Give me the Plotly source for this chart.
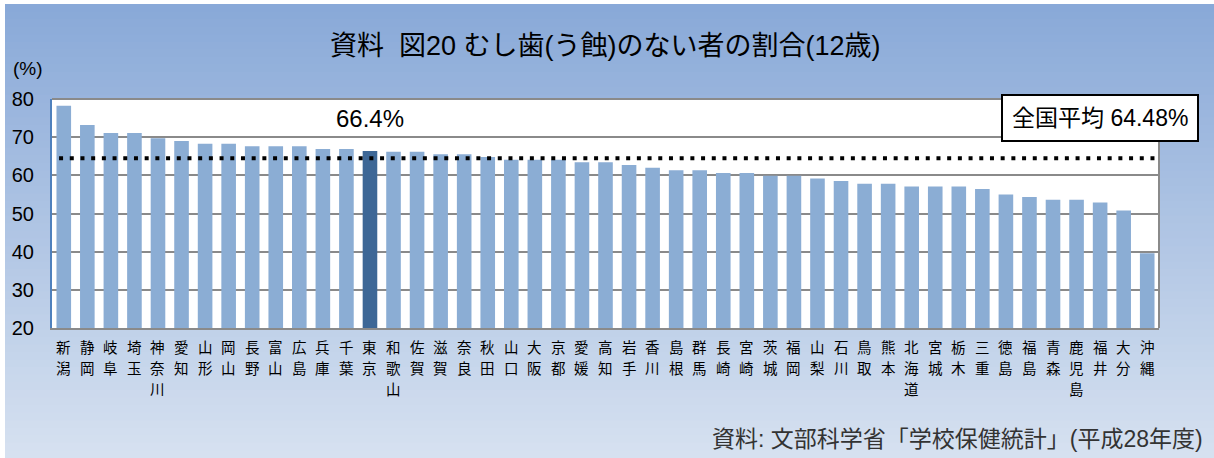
import plotly.graph_objects as go

# 12歳でむし歯（う蝕）のない者の割合（%）、都道府県別・降順
prefectures = [
    "新潟", "静岡", "岐阜", "埼玉", "神奈川", "愛知", "山形", "岡山", "長野", "富山",
    "広島", "兵庫", "千葉", "東京", "和歌山", "佐賀", "滋賀", "奈良", "秋田", "山口",
    "大阪", "京都", "愛媛", "高知", "岩手", "香川", "島根", "群馬", "長崎", "宮崎",
    "茨城", "福岡", "山梨", "石川", "鳥取", "熊本", "北海道", "宮城", "栃木", "三重",
    "徳島", "福島", "青森", "鹿児島", "福井", "大分", "沖縄",
]
rates = [
    78.2, 73.2, 71.1, 71.1, 69.7, 69.0, 68.3, 68.3, 67.6, 67.6,
    67.6, 66.9, 66.9, 66.4, 66.2, 66.2, 65.5, 65.5, 64.8, 64.1,
    64.1, 64.1, 63.4, 63.4, 62.7, 62.0, 61.3, 61.3, 60.6, 60.6,
    59.9, 59.9, 59.2, 58.5, 57.8, 57.8, 57.1, 57.1, 57.1, 56.4,
    55.0, 54.3, 53.6, 53.6, 52.9, 50.8, 39.6,
]
national_avg = 64.48
highlight = "東京"
y_ticks = [20, 30, 40, 50, 60, 70, 80]

title_text = "資料  図20 むし歯(う蝕)のない者の割合(12歳)"
source_text = "資料: 文部科学省「学校保健統計」(平成28年度)"

FONT = "Liberation Sans, Noto Sans CJK JP, sans-serif"
CJK = "Noto Sans CJK JP"
BAR = "#8badd4"
BAR_HL = "#3d6796"
GRID = "#8a8a8a"

W, H = 1214, 458
L, R, T, B = 52, 55, 99, 130
pw, ph = W - L - R, H - T - B


def px_to_paper(px, py):
    return (px - L) / pw, (H - B - py) / ph


xs = list(range(len(prefectures)))
colors = [BAR_HL if p == highlight else BAR for p in prefectures]

fig = go.Figure(
    go.Bar(x=xs, y=rates, marker=dict(color=colors, line=dict(width=0)), width=0.62)
)

shapes = []
# background gradient (top darker blue -> bottom pale blue)
top_c = (137, 169, 216)
bot_c = (214, 225, 240)
n = 60
y_top, y_bot = 4, H
x0p, _ = px_to_paper(5, 0)
x1p, _ = px_to_paper(W + 2, 0)
for i in range(n):
    t = i / (n - 1)
    c = tuple(round(a + (b - a) * t) for a, b in zip(top_c, bot_c))
    py0 = y_top + (y_bot - y_top) * i / n
    py1 = y_top + (y_bot - y_top) * (i + 1) / n + 1
    _, ya = px_to_paper(0, py0)
    _, yb = px_to_paper(0, py1)
    shapes.append(dict(type="rect", xref="paper", yref="paper", x0=x0p, x1=x1p,
                       y0=yb, y1=ya, fillcolor="rgb(%d,%d,%d)" % c,
                       line=dict(width=0), layer="below"))
# white plotting area
shapes.append(dict(type="rect", xref="paper", yref="paper", x0=0, x1=1, y0=0, y1=1,
                   fillcolor="white", line=dict(width=0), layer="below"))
# top and right frame
shapes.append(dict(type="line", xref="paper", yref="paper", x0=0, x1=1, y0=1, y1=1,
                   line=dict(color=GRID, width=2)))
shapes.append(dict(type="line", xref="paper", yref="paper", x0=1, x1=1, y0=0, y1=1,
                   line=dict(color=GRID, width=2)))
# national average dotted line
shapes.append(dict(type="line", xref="x", yref="y", x0=-0.2, x1=46.45,
                   y0=national_avg, y1=national_avg,
                   line=dict(color="black", width=4, dash="4px,6.7px")))

hl_idx = prefectures.index(highlight)
annotations = [
    dict(x=0.5, y=(H - B - 46) / ph, xref="paper", yref="paper", text=title_text,
         showarrow=False, font=dict(family=FONT, size=27, color="black"),
         xanchor="center", yanchor="middle"),
    dict(x=px_to_paper(28, 0)[0], y=px_to_paper(0, 68)[1], xref="paper", yref="paper",
         text="(%)", showarrow=False, font=dict(family=FONT, size=19, color="black"),
         xanchor="center", yanchor="middle"),
    dict(x=hl_idx, y=75.0, xref="x", yref="y", text=f"{rates[hl_idx]}%",
         showarrow=False, font=dict(family=FONT, size=24, color="black"),
         xanchor="center", yanchor="middle"),
    dict(x=px_to_paper(1100, 0)[0], y=px_to_paper(0, 118)[1], xref="paper", yref="paper",
         text=f"全国平均 {national_avg}%", showarrow=False,
         font=dict(family=FONT, size=23, color="black"),
         bgcolor="white", bordercolor="black", borderwidth=2, borderpad=9,
         xanchor="center", yanchor="middle"),
    dict(x=px_to_paper(1205, 0)[0], y=px_to_paper(0, 439)[1], xref="paper", yref="paper",
         text=source_text, showarrow=False,
         font=dict(family=FONT, size=23, color="#333333"),
         xanchor="right", yanchor="middle"),
]

# prefecture names written vertically, one character per row under each bar
row_top_px = 346
row_pitch_px = 21.4
for i, name in enumerate(prefectures):
    for k, ch in enumerate(name):
        annotations.append(dict(
            x=i, y=px_to_paper(0, row_top_px + k * row_pitch_px)[1],
            xref="x", yref="paper", text=ch, showarrow=False,
            font=dict(family=CJK, size=14.5, color="black"),
            xanchor="center", yanchor="middle", borderpad=0,
        ))

fig.update_layout(
    width=W, height=H,
    margin=dict(l=L, r=R, t=T, b=B, pad=0),
    paper_bgcolor="white",
    plot_bgcolor="rgba(0,0,0,0)",
    showlegend=False,
    bargap=0.38,
    shapes=shapes,
    annotations=annotations,
    xaxis=dict(
        range=[-0.5, len(prefectures) - 0.5],
        showticklabels=False,
        showgrid=False, zeroline=False,
        showline=True, linecolor=GRID, linewidth=2,
        ticks="",
        fixedrange=True,
    ),
    yaxis=dict(
        range=[20, 80], tickmode="array", tickvals=y_ticks,
        tickfont=dict(family=FONT, size=20, color="black"),
        showgrid=True, gridcolor=GRID, gridwidth=2,
        zeroline=False,
        showline=True, linecolor="#4f81bd", linewidth=2,
        ticks="outside", ticklen=12, tickcolor="rgba(0,0,0,0)",
        fixedrange=True,
    ),
)

fig.write_html("out.html", config={"displayModeBar": False})
